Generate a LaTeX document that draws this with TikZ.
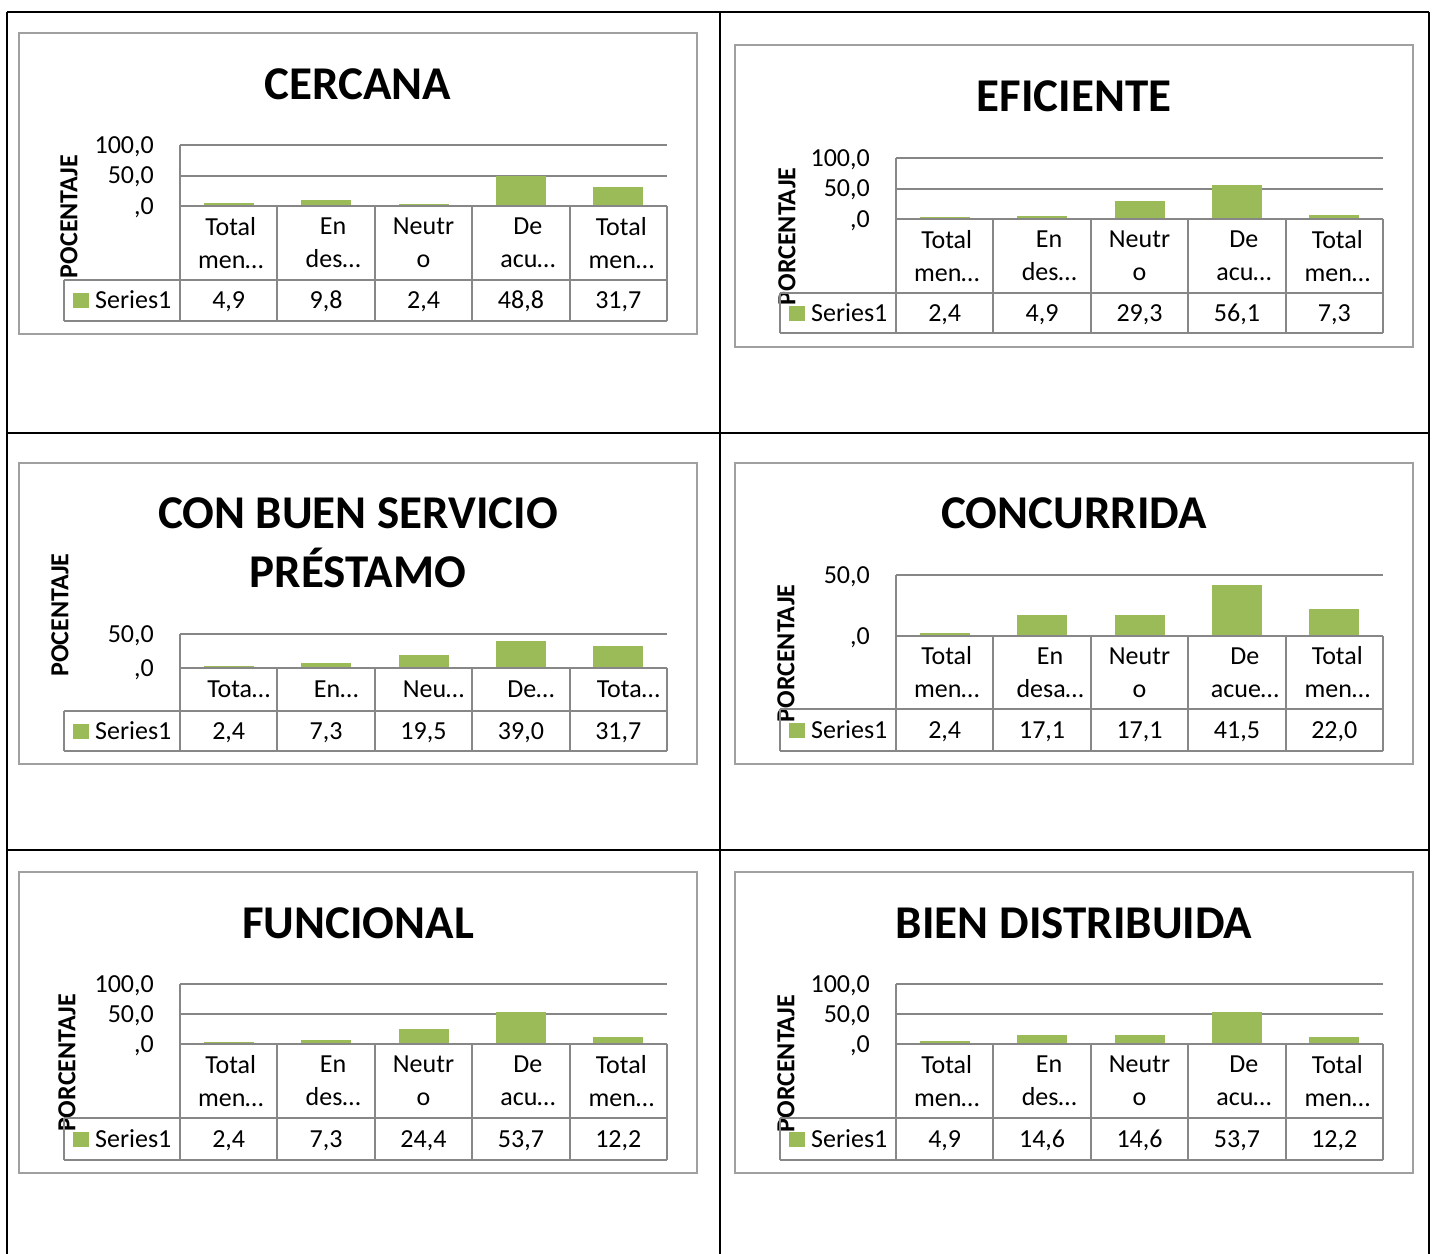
\documentclass[tikz,border=0pt]{standalone}
\usepackage{fontspec}
\setmainfont{Carlito}
\definecolor{bargreen}{HTML}{9BBB59}
\definecolor{gridgray}{HTML}{868686}
\definecolor{tablegray}{HTML}{878787}
\definecolor{framegray}{HTML}{A0A0A0}
\tikzset{
  titletext/.style={font=\bfseries\fontsize{47}{59}\selectfont, anchor=base, align=center, inner sep=0pt},
  ticktext/.style={font=\fontsize{26}{33}\selectfont, anchor=base east, inner sep=0pt},
  cattext/.style={font=\fontsize{26}{33}\selectfont, align=center, inner sep=0pt},
  valtext/.style={font=\fontsize{26}{33}\selectfont, anchor=base, inner sep=0pt},
  axislabel/.style={font=\bfseries\fontsize{26}{33}\selectfont, rotate=90, inner sep=0pt},
  gridline/.style={draw=gridgray, line width=2pt},
  tableline/.style={draw=tablegray, line width=2pt},
  chartframe/.style={draw=framegray, line width=2pt},
  bar/.style={fill=bargreen},
  celltable/.style={draw=black, line width=2.5pt}
}
% one chart, read from the \def's set just before it
\newcommand{\drawchart}{%
\draw[chartframe] (19,\ftop) rectangle (697,\fbot);
\node[titletext] (\cname-title) at (358,\tbase) {\ctitle};
\node[axislabel] (\cname-label) at (\lx,\ly) {\clabel};
\foreach \g/\t in \cticks {
  \draw[gridline] (180,{\yzero-\g*\yunit}) -- (667,{\yzero-\g*\yunit});
  \node[ticktext] (\cname-tick\g) at (154,{\yzero-\g*\yunit+8.2}) {\t};
}
\draw[tableline] (180,\yzero) -- (667,\yzero);
\foreach \v/\s [count=\i] in \cvals {
  \fill[bar] ({180+(\i-0.5)*97.4-25},\yzero-1) rectangle ++(50,{-max(\v*\yunit-1,1.2)});
  \node[valtext] (\cname-val\i) at ({180+(\i-0.5)*97.4},{(\ycat+\yser)/2+8.4}) {\s};
}
\draw[tableline] (64,\ycat) -- (667,\ycat) (64,\yser) -- (667,\yser) (64,\ycat) -- (64,\yser);
\draw[tableline] (180,{\yzero-\ctop*\yunit}) -- (180,\yser);
\foreach \k in {1,...,5}
  \draw[tableline] ({180+\k*97.4},\yzero) -- ({180+\k*97.4},\yser);
\foreach \dx/\ctext [count=\i] in \ccats
  \node[cattext] (\cname-cat\i) at ({180+(\i-0.5)*97.4+\dx},{(\yzero+\ycat)/2}) {\ctext};
\fill[bar] (73,{(\ycat+\yser)/2-7.5}) rectangle (89,{(\ycat+\yser)/2+7.5});
\node[valtext, anchor=base west] (\cname-series) at (95,{(\ycat+\yser)/2+8.4}) {Series1};
}
\def\catslong{2/{Total\\men…}, 7/{En\\des…}, 0/{Neutr\\o}, 7/{De\\acu…}, 3/{Total\\men…}}
\def\tickslong{0/{,0}, 50/{50,0}, 100/{100,0}}
\def\ticksshort{0/{,0}, 50/{50,0}}

\begin{document}
\begin{tikzpicture}[x=1pt, y=-1pt, line join=miter]
\useasboundingbox (0,0) rectangle (1437,1253);
% outer table
\draw[celltable] (7,12) -- (1429,12) (7,433) -- (1429,433) (7,850) -- (1429,850);
\draw[celltable] (7,12) -- (7,1260) (720,12) -- (720,1260) (1429,12) -- (1429,1260);

% CERCANA
\begin{scope}
\def\cname{cer} \def\ctitle{CERCANA} \def\clabel{POCENTAJE}
\def\ftop{33} \def\fbot{334} \def\tbase{99} \def\lx{69} \def\ly{216.5}
\def\yzero{206} \def\yunit{0.61} \def\ycat{280} \def\yser{321} \def\ctop{100}
\let\cticks\tickslong \let\ccats\catslong
\def\cvals{4.9/{4,9}, 9.8/{9,8}, 2.4/{2,4}, 48.8/{48,8}, 31.7/{31,7}}
\drawchart
\end{scope}

% EFICIENTE
\begin{scope}[xshift=716pt]
\def\cname{efi} \def\ctitle{EFICIENTE} \def\clabel{PORCENTAJE}
\def\ftop{45} \def\fbot{347} \def\tbase{111} \def\lx{71} \def\ly{236.5}
\def\yzero{219} \def\yunit{0.61} \def\ycat{293} \def\yser{333} \def\ctop{100}
\let\cticks\tickslong \let\ccats\catslong
\def\cvals{2.4/{2,4}, 4.9/{4,9}, 29.3/{29,3}, 56.1/{56,1}, 7.3/{7,3}}
\drawchart
\end{scope}

% CON BUEN SERVICIO PRESTAMO (base = last line)
\begin{scope}
\def\cname{ser} \def\ctitle{CON BUEN SERVICIO\\PRÉSTAMO} \def\clabel{POCENTAJE}
\def\ftop{463} \def\fbot{764} \def\tbase{587} \def\lx{60} \def\ly{615}
\def\yzero{668} \def\yunit{0.68} \def\ycat{711} \def\yser{751} \def\ctop{50}
\let\cticks\ticksshort
\def\ccats{10/{Tota…}, 10/{En…}, 10/{Neu…}, 10/{De…}, 10/{Tota…}}
\def\cvals{2.4/{2,4}, 7.3/{7,3}, 19.5/{19,5}, 39.0/{39,0}, 31.7/{31,7}}
\drawchart
\end{scope}

% CONCURRIDA
\begin{scope}[xshift=716pt]
\def\cname{con} \def\ctitle{CONCURRIDA} \def\clabel{PORCENTAJE}
\def\ftop{463} \def\fbot{764} \def\tbase{528} \def\lx{70} \def\ly{653.5}
\def\yzero{636} \def\yunit{1.22} \def\ycat{709} \def\yser{751} \def\ctop{50}
\let\cticks\ticksshort
\def\ccats{2/{Total\\men…}, 8/{En\\desa…}, 0/{Neutr\\o}, 8/{De\\acue…}, 3/{Total\\men…}}
\def\cvals{2.4/{2,4}, 17.1/{17,1}, 17.1/{17,1}, 41.5/{41,5}, 22.0/{22,0}}
\drawchart
\end{scope}

% FUNCIONAL
\begin{scope}
\def\cname{fun} \def\ctitle{FUNCIONAL} \def\clabel{PORCENTAJE}
\def\ftop{872} \def\fbot{1173} \def\tbase{938} \def\lx{67} \def\ly{1063}
\def\yzero{1044} \def\yunit{0.6} \def\ycat{1118} \def\yser{1160} \def\ctop{100}
\let\cticks\tickslong \let\ccats\catslong
\def\cvals{2.4/{2,4}, 7.3/{7,3}, 24.4/{24,4}, 53.7/{53,7}, 12.2/{12,2}}
\drawchart
\end{scope}

% BIEN DISTRIBUIDA
\begin{scope}[xshift=716pt]
\def\cname{bien} \def\ctitle{BIEN DISTRIBUIDA} \def\clabel{PORCENTAJE}
\def\ftop{872} \def\fbot{1173} \def\tbase{938} \def\lx{70} \def\ly{1063.5}
\def\yzero{1044} \def\yunit{0.6} \def\ycat{1118} \def\yser{1160} \def\ctop{100}
\let\cticks\tickslong \let\ccats\catslong
\def\cvals{4.9/{4,9}, 14.6/{14,6}, 14.6/{14,6}, 53.7/{53,7}, 12.2/{12,2}}
\drawchart
\end{scope}
\end{tikzpicture}
\end{document}
